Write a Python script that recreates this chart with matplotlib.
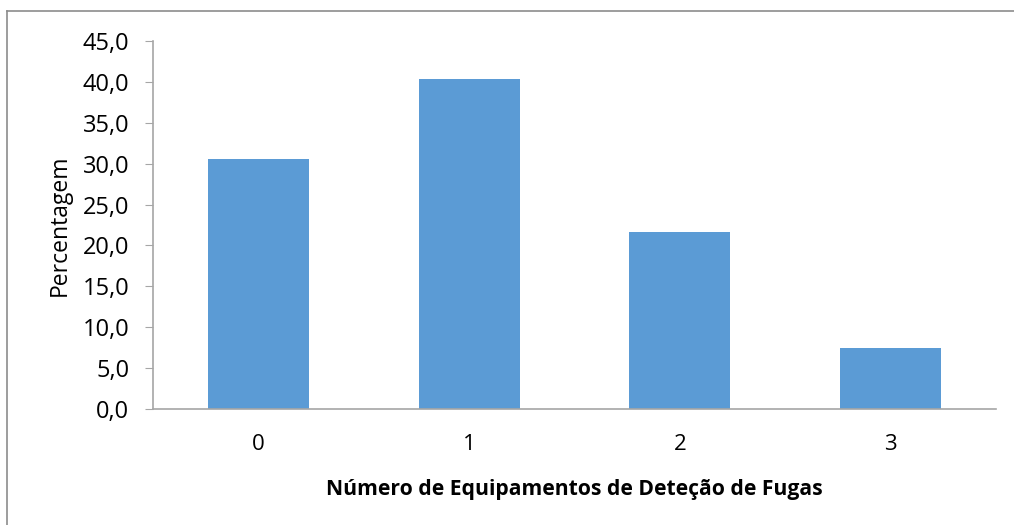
import matplotlib.pyplot as plt
from matplotlib.lines import Line2D

plt.rcParams['font.family'] = ['Open Sans', 'DejaVu Sans']

categories = ["0", "1", "2", "3"]
percentages = [30.6, 40.3, 21.6, 7.5]
y_ticks = [0, 5, 10, 15, 20, 25, 30, 35, 40, 45]
y_tick_labels = ["0,0", "5,0", "10,0", "15,0", "20,0", "25,0", "30,0", "35,0", "40,0", "45,0"]

fig = plt.figure(figsize=(10.14, 5.25), dpi=100)
ax = fig.add_axes([0.1509, 0.2210, 0.8313, 0.7009])

x = range(len(categories))
ax.bar(x, percentages, width=0.48, color="#5b9bd5")

ax.set_xlim(-0.5, len(categories) - 0.5)
ax.set_ylim(0, 45)
ax.set_yticks(y_ticks)
ax.set_yticklabels(y_tick_labels)
ax.set_xticks(list(x))
ax.set_xticklabels(categories)

for side in ["top", "right"]:
    ax.spines[side].set_visible(False)
ax.spines["left"].set_color("#a6a6a6")
ax.spines["bottom"].set_color("#a6a6a6")
ax.spines["left"].set_linewidth(1.2)
ax.spines["bottom"].set_linewidth(1.2)
ax.tick_params(axis="y", length=6, color="#a6a6a6", labelsize=17, pad=11)
ax.tick_params(axis="x", length=0, labelsize=16, pad=18)

ax.set_ylabel("Percentagem", fontsize=16.5, labelpad=8)
ax.set_xlabel("Número de Equipamentos de Deteção de Fugas", fontsize=15.2,
              fontweight="bold", labelpad=17)

# chart-area frame (top and left edges visible)
fig.add_artist(Line2D([7 / 1014, 1], [1 - 11 / 525, 1 - 11 / 525],
                      transform=fig.transFigure, color="#8c8c8c", lw=1.2))
fig.add_artist(Line2D([7 / 1014, 7 / 1014], [0, 1 - 11 / 525],
                      transform=fig.transFigure, color="#8c8c8c", lw=1.2))

fig.savefig("out.png", dpi=100)
